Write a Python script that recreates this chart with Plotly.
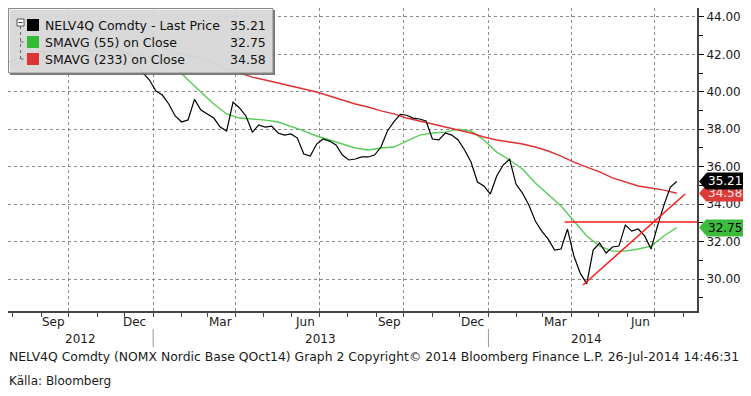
import pandas as pd
import plotly.graph_objects as go

# ---------------- data ----------------
week_dates = pd.date_range("2012-07-27", periods=105, freq="7D")
last_price = [
    41.60, 41.70, 41.84, 42.00, 42.10, 42.18, 42.13, 42.24, 42.29, 42.32,
    42.29, 42.40, 42.29, 42.18, 42.34, 42.24, 42.40, 42.29, 42.13, 41.97,
    41.60, 41.01, 40.63, 40.04, 39.83, 39.35, 38.71, 38.39, 38.50, 39.60,
    39.03, 38.82, 38.60, 38.12, 37.91, 39.45, 39.14, 38.71, 37.85, 38.23,
    38.12, 38.17, 37.80, 37.69, 37.75, 37.53, 36.68, 36.57, 37.21, 37.48,
    37.37, 37.16, 36.62, 36.36, 36.41, 36.52, 36.52, 36.62, 37.05, 37.91,
    38.39, 38.80, 38.75, 38.60, 38.55, 38.44, 37.48, 37.43, 37.80, 37.69,
    37.43, 36.89, 36.25, 35.18, 34.97, 34.54, 35.50, 36.09, 36.40, 35.07,
    34.59, 33.95, 33.10, 32.56, 32.13, 31.55, 31.60, 32.67, 31.23, 30.30,
    29.75, 31.55, 31.92, 31.39, 31.71, 31.76, 32.88, 32.56, 32.67, 32.30,
    31.60, 32.83, 33.95, 34.91, 35.21,
]

ma_dates = pd.date_range("2012-07-27", periods=53, freq="14D")
sma55 = [
    41.38, 41.59, 41.81, 42.08, 42.13, 42.16, 42.18, 42.18, 42.16, 42.10,
    42.02, 41.86, 41.65, 41.33, 40.63, 39.99, 39.35, 38.82, 38.60, 38.55,
    38.49, 38.39, 38.17, 37.91, 37.64, 37.43, 37.21, 37.00, 36.89, 37.00,
    37.05, 37.37, 37.69, 37.80, 37.85, 38.01, 37.91, 37.43, 36.78, 36.36,
    35.88, 35.13, 34.49, 33.90, 33.10, 32.30, 31.76, 31.49, 31.49, 31.60,
    31.76, 32.30, 32.75,
]
sma233_dates = ma_dates[10:]
sma233 = [
    42.85, 42.56, 42.34, 42.13, 41.97, 41.81, 41.54, 41.22, 41.01, 40.79,
    40.63, 40.47, 40.31, 40.14, 39.99, 39.78, 39.56, 39.35, 39.19, 38.98,
    38.82, 38.60, 38.44, 38.28, 38.12, 37.96, 37.80, 37.59, 37.43, 37.32,
    37.21, 37.05, 36.84, 36.57, 36.25, 35.98, 35.72, 35.40, 35.18, 34.97,
    34.86, 34.75, 34.58,
]

resist_dates = ["2014-03-25", "2014-08-16"]
resist_vals = [33.05, 33.05]
trend_dates = ["2014-04-14", "2014-08-03"]
trend_vals = [29.68, 34.54]

y_ticks = [30, 32, 34, 36, 38, 40, 42, 44]
month_label_dates = ["2012-09-15", "2012-12-12", "2013-03-15", "2013-06-15",
                     "2013-09-15", "2013-12-15", "2014-03-15", "2014-06-15"]
month_labels = ["Sep", "Dec", "Mar", "Jun", "Sep", "Dec", "Mar", "Jun"]
year_label_dates = ["2012-10-14", "2013-07-02", "2014-04-18"]
year_labels = ["2012", "2013", "2014"]
year_break_dates = ["2013-01-01", "2014-01-01"]
quarter_dates = ["2012-10-01", "2013-01-01", "2013-04-01", "2013-07-01",
                 "2013-10-01", "2014-01-01", "2014-04-01", "2014-07-01"]

series_names = ["NELV4Q Comdty - Last Price", "SMAVG (55) on Close", "SMAVG (233) on Close"]

BLACK = "#000000"
RED = "#e03030"
FONT = "DejaVu Sans"

# ---------------- layout geometry ----------------
# the page body adds an 8px margin, so the figure is 8px smaller than the window
PAGE_W, PAGE_H, OFF = 751, 396, 8
W, H = PAGE_W - OFF, PAGE_H - OFF
# plot area in page pixels
L, R, T, B = 8, 697, 8, 311
Y_RANGE = [28.29, 44.48]


def px(xp):
    return (xp - L) / (R - L)


def py(yp):
    return (B - yp) / (B - T)


fig = go.Figure()

fig.add_trace(go.Scatter(x=ma_dates, y=sma55, mode="lines",
                         line=dict(color="#55cc55", width=1.4), showlegend=False))
fig.add_trace(go.Scatter(x=sma233_dates, y=sma233, mode="lines",
                         line=dict(color=RED, width=1.4), showlegend=False))
fig.add_trace(go.Scatter(x=week_dates, y=last_price, mode="lines",
                         line=dict(color=BLACK, width=1.2), showlegend=False))
fig.add_trace(go.Scatter(x=resist_dates, y=resist_vals, mode="lines",
                         line=dict(color="#ff1a1a", width=1.5), showlegend=False))
fig.add_trace(go.Scatter(x=trend_dates, y=trend_vals, mode="lines",
                         line=dict(color="#ff1a1a", width=1.5), showlegend=False))

# triangle markers at the major y ticks
fig.add_trace(go.Scatter(x=[1.006] * len(y_ticks), y=y_ticks, xaxis="x3", mode="markers",
                         marker=dict(symbol="triangle-right", size=7, color=BLACK),
                         cliponaxis=False, showlegend=False, hoverinfo="skip"))

fig.update_layout(
    width=W, height=H,
    margin=dict(l=L - OFF, r=PAGE_W - R, t=T - OFF, b=PAGE_H - B),
    paper_bgcolor="white", plot_bgcolor="white",
    font=dict(family=FONT, size=12, color="#1a1a1a"),
    xaxis=dict(
        type="date", range=["2012-07-27", "2014-08-16"],
        tickmode="array", tickvals=quarter_dates, showticklabels=False,
        ticks="outside", ticklen=4, tickcolor="#444",
        showgrid=True, gridcolor="#8a8a8a", griddash="dot", gridwidth=1,
        minor=dict(dtick="M1", tick0="2012-01-01", ticks="outside", ticklen=4,
                   tickcolor="#444", showgrid=False),
        showline=True, linecolor="#444", linewidth=2, zeroline=False,
    ),
    xaxis3=dict(overlaying="x", range=[0, 1], visible=False),
    yaxis=dict(
        side="right", range=Y_RANGE,
        tickmode="array", tickvals=y_ticks, ticktext=[f"{v:.2f}" for v in y_ticks],
        ticks="outside", ticklen=5, tickcolor=BLACK,
        showgrid=True, gridcolor="#8a8a8a", griddash="dot", gridwidth=1,
        minor=dict(dtick=1, tick0=0, ticks="outside", ticklen=4, tickcolor=BLACK, showgrid=False),
        showline=True, linecolor="#444", linewidth=2, zeroline=False,
        tickfont=dict(size=12, color="#1a1a1a"),
    ),
)

shapes = []
annotations = []

# x labels
for d, t in zip(month_label_dates, month_labels):
    annotations.append(dict(x=d, xref="x", y=py(322), yref="paper", text=t, showarrow=False,
                            xanchor="center", yanchor="middle", font=dict(size=12)))
for d, t in zip(year_label_dates, year_labels):
    annotations.append(dict(x=d, xref="x", y=py(339), yref="paper", text=t, showarrow=False,
                            xanchor="center", yanchor="middle", font=dict(size=12)))
for d in year_break_dates:
    shapes.append(dict(type="line", xref="x", yref="paper", x0=d, x1=d, y0=py(329), y1=py(347),
                       line=dict(color="#999", width=1)))

annotations.append(dict(x=px(7), xref="paper", y=py(356), yref="paper", xanchor="left", yanchor="middle",
                        showarrow=False, font=dict(size=12.4),
                        text="NELV4Q Comdty (NOMX Nordic Base QOct14) Graph 2 Copyright© 2014 Bloomberg Finance L.P. 26-Jul-2014 14:46:31"))
annotations.append(dict(x=px(7), xref="paper", y=py(381), yref="paper", xanchor="left", yanchor="middle",
                        showarrow=False, font=dict(size=12), text="Källa: Bloomberg"))

# legend box
shapes.append(dict(type="rect", xref="paper", yref="paper", x0=px(10), x1=px(275), y0=py(75), y1=py(10),
                   line=dict(width=0), fillcolor="rgba(90,90,90,0.8)", layer="above"))
shapes.append(dict(type="rect", xref="paper", yref="paper", x0=px(8.5), x1=px(273), y0=py(73), y1=py(8.5),
                   line=dict(color="#8a8a8a", width=1), fillcolor="rgba(238,238,238,0.82)", layer="above"))
# tree icon
shapes.append(dict(type="rect", xref="paper", yref="paper", x0=px(17), x1=px(24), y0=py(26), y1=py(19),
                   line=dict(color="#555", width=1), fillcolor="white", layer="above"))
shapes.append(dict(type="line", xref="paper", yref="paper", x0=px(18.5), x1=px(22.5), y0=py(22.5), y1=py(22.5),
                   line=dict(color="#333", width=1), layer="above"))
shapes.append(dict(type="line", xref="paper", yref="paper", x0=px(20.5), x1=px(20.5), y0=py(26), y1=py(59),
                   line=dict(color="#666", width=1, dash="dot"), layer="above"))
for ry in (42, 59):
    shapes.append(dict(type="line", xref="paper", yref="paper", x0=px(20.5), x1=px(26), y0=py(ry), y1=py(ry),
                       line=dict(color="#666", width=1, dash="dot"), layer="above"))

legend_rows = [(series_names[0], BLACK, last_price[-1]),
               (series_names[1], "#33bb33", sma55[-1]),
               (series_names[2], "#dd3333", sma233[-1])]
for i, (name, col, val) in enumerate(legend_rows):
    ry = 25 + 17 * i
    shapes.append(dict(type="rect", xref="paper", yref="paper", x0=px(27), x1=px(39), y0=py(ry + 6), y1=py(ry - 6),
                       line=dict(width=0), fillcolor=col, layer="above"))
    annotations.append(dict(x=px(43), xref="paper", y=py(ry), yref="paper", xanchor="left", yanchor="middle",
                            showarrow=False, text=name, font=dict(size=12.5, color="#111")))
    annotations.append(dict(x=px(268), xref="paper", y=py(ry), yref="paper", xanchor="right", yanchor="middle",
                            showarrow=False, text=f"{val:.2f}", font=dict(size=12.5, color="#111")))

# right-hand price tags (red first, black on top, green)
hh = 8.0 / ((B - T) / (Y_RANGE[1] - Y_RANGE[0]))
tags = [(sma233[-1], "#dd3a3a", "#ffe6e6"), (last_price[-1], BLACK, "white"), (sma55[-1], "#3dbb3d", "black")]
for val, bg, fg in tags:
    shapes.append(dict(type="path", xref="paper", yref="y",
                       path=f"M {px(699)},{val} L {px(706)},{val + hh} L {px(707)},{val + hh} "
                            f"L {px(707)},{val - hh} L {px(706)},{val - hh} Z",
                       line=dict(width=0), fillcolor=bg, layer="above"))
    annotations.append(dict(x=px(706), xref="paper", y=val, yref="y", xanchor="left", yanchor="middle",
                            showarrow=False, text=f"{val:.2f}", bgcolor=bg, borderpad=1,
                            font=dict(size=12, color=fg)))

fig.update_layout(shapes=shapes, annotations=annotations)
fig.write_html("out.html")
